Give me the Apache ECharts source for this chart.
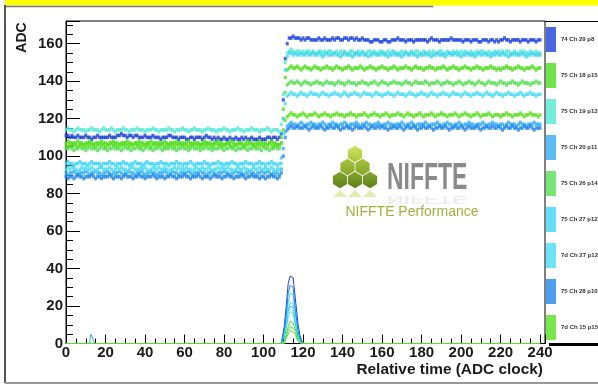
<!DOCTYPE html>
<html><head><meta charset="utf-8">
<script src="https://cdn.jsdelivr.net/npm/echarts@6/dist/echarts.min.js"></script>
<style>html,body{margin:0;padding:0;background:#fff}#c{width:598px;height:385px}</style>
</head><body><div id="c"></div>
<script>
// ---------------- DATA ----------------
const seriesNames = ['74 Ch 29 p8','75 Ch 18 p15','75 Ch 19 p13','75 Ch 20 p11','75 Ch 26 p14','75 Ch 27 p12','7d Ch 27 p12','75 Ch 28 p10','7d Ch 15 p15'];
// ADC value per relative-time sample 0..240
const trace_74_29_8 = [
111,111,110,111,110,110,111,110,110,110,111,110,110,109,110,110,111,110,110,110,
110,110,111,110,110,110,111,111,112,111,111,110,111,111,110,111,111,110,110,110,
111,110,110,110,111,110,110,110,109,110,110,110,111,111,110,110,110,109,110,110,
110,109,109,110,110,109,110,110,110,109,110,111,110,110,109,110,109,110,109,109,
110,109,109,110,109,109,110,109,109,110,109,110,109,109,110,109,109,109,110,109,
109,109,110,110,109,110,110,109,110,112,130,152,160,163,163,164,163,163,163,162,
163,162,163,163,162,162,162,162,163,162,162,163,162,162,162,163,162,163,163,162,
162,163,163,162,163,163,162,163,162,162,163,162,162,162,161,161,162,162,162,161,
161,162,162,161,161,162,162,162,163,162,162,162,161,162,162,162,161,162,162,162,
162,162,162,161,162,163,162,162,162,161,162,162,162,162,162,163,162,162,162,162,
162,161,162,162,162,161,162,162,162,161,161,162,162,162,161,162,162,161,162,161,
162,162,163,162,162,161,162,162,162,162,161,162,162,162,161,162,162,162,161,162,
162];
const trace_75_18_15 = [
107,108,107,107,106,107,108,107,107,106,107,107,108,107,106,107,107,107,108,107,
107,106,107,107,108,107,107,106,107,107,107,108,107,107,106,107,107,108,107,107,
106,107,107,108,107,107,107,106,107,107,108,107,106,107,107,107,108,107,107,106,
107,107,108,107,106,107,107,107,106,107,108,107,107,107,106,107,107,108,107,107,
106,107,107,107,108,107,106,107,107,107,106,107,108,107,107,106,107,107,108,107,
107,107,106,107,108,107,107,106,106,110,125,142,146,147,148,147,147,148,147,146,
147,148,147,147,146,147,148,147,147,146,147,147,148,147,147,146,147,148,147,147,
146,147,147,148,147,146,147,147,147,148,147,146,147,147,148,147,147,146,147,147,
148,147,147,146,147,147,148,147,146,147,147,147,148,147,147,146,147,148,147,147,
147,146,147,147,148,147,147,146,147,147,147,148,147,146,147,147,148,147,147,146,
147,147,148,147,147,146,147,147,148,147,147,146,147,147,147,148,147,147,146,147,
146,147,147,148,147,147,146,147,147,148,147,147,146,147,147,147,148,147,146,147,
147];
const trace_75_19_13 = [
114,115,114,114,113,114,115,114,114,114,113,114,114,115,114,114,114,113,114,115,
114,114,114,115,114,113,114,114,114,115,114,114,113,114,114,114,115,114,114,114,
113,114,114,114,115,114,114,113,114,114,114,114,115,114,114,113,114,114,114,115,
114,114,113,114,114,115,114,114,114,113,114,114,115,114,114,114,113,114,114,114,
115,114,114,113,114,114,114,115,114,114,113,114,114,114,115,114,114,114,113,114,
114,114,115,114,113,114,114,114,113,117,133,150,155,156,157,156,155,156,156,155,
156,155,156,156,155,156,155,155,156,156,155,156,155,156,156,155,155,156,155,156,
155,156,155,155,156,156,155,155,156,155,156,155,155,156,156,155,156,155,155,156,
156,155,155,156,155,156,156,155,155,155,156,155,156,155,155,156,155,156,156,155,
155,156,155,155,156,155,156,155,155,156,156,155,155,156,155,155,156,155,156,155,
156,155,156,155,155,156,155,155,156,155,156,156,155,155,156,155,155,156,155,156,
155,156,155,156,156,155,155,156,155,155,156,155,156,155,155,156,155,155,156,155,
155];
const trace_75_20_11 = [
91,90,91,91,92,91,90,91,91,91,92,91,90,91,91,92,91,91,90,91,
91,92,91,90,91,91,91,92,91,90,91,91,92,91,91,90,91,91,92,91,
90,91,91,92,91,91,90,91,91,91,92,91,90,91,92,91,91,90,91,91,
91,91,92,91,90,91,91,91,92,91,91,90,91,91,92,91,90,91,91,91,
92,91,91,90,91,91,92,91,91,91,90,91,91,92,91,91,90,91,91,92,
91,91,92,91,90,91,91,91,90,93,104,113,116,117,118,117,117,116,117,118,
117,116,117,117,118,117,117,116,117,117,118,117,116,117,117,118,117,117,116,117,
117,118,117,116,117,117,117,118,117,116,117,117,118,117,117,116,117,117,118,117,
116,117,117,118,117,117,116,117,117,117,118,117,116,117,117,118,117,116,117,117,
117,117,118,117,116,117,117,117,118,117,116,117,117,118,117,117,116,117,117,118,
117,116,117,117,118,117,117,116,117,117,117,118,117,116,117,117,118,117,117,116,
117,117,116,117,118,117,117,117,116,117,118,117,117,116,117,117,117,118,117,117,
117];
const trace_75_26_14 = [
104,104,105,104,103,104,104,105,104,104,103,104,105,104,104,104,103,104,105,104,
104,103,104,104,105,104,104,104,103,104,105,104,104,103,104,104,105,104,104,103,
104,105,104,104,103,104,104,105,104,103,104,104,104,105,104,104,103,104,104,105,
104,104,103,104,105,104,104,104,103,104,104,105,104,104,103,104,104,104,105,104,
103,104,104,105,104,104,103,104,104,104,105,104,103,104,104,105,104,104,104,103,
105,104,104,103,104,104,105,104,104,107,120,134,138,139,140,139,139,140,139,138,
139,140,139,139,138,139,139,140,139,139,138,139,140,139,139,139,138,139,140,139,
139,138,139,140,139,139,139,138,139,139,140,139,139,138,139,139,140,139,138,139,
140,139,139,138,139,139,140,139,139,139,138,139,140,139,139,138,139,140,139,139,
139,139,140,139,138,139,139,139,140,139,138,139,139,140,139,139,138,139,139,140,
139,138,139,139,140,139,139,138,139,140,139,139,138,139,140,139,139,139,138,139,
140,139,139,138,139,139,140,139,139,138,139,140,139,139,139,138,139,139,140,139,
139];
const trace_75_27_12 = [
96,97,96,96,95,96,96,97,96,96,96,95,96,97,96,96,96,96,95,96,
96,96,97,96,96,95,96,96,96,97,96,96,95,96,96,97,96,96,96,95,
96,97,96,96,96,95,96,96,97,96,96,96,95,96,96,96,97,96,96,95,
96,96,96,97,96,95,96,96,96,96,97,96,96,95,96,96,96,97,96,96,
95,96,96,96,97,96,96,95,96,96,96,97,96,96,96,95,96,96,97,96,
96,95,96,96,97,96,96,95,96,99,120,146,153,155,155,154,155,154,154,155,
154,154,155,154,154,155,154,154,155,154,153,154,155,154,154,154,155,154,154,153,
154,155,154,154,154,153,154,155,154,154,155,154,154,153,154,154,155,154,154,154,
155,154,154,153,154,154,155,154,154,154,153,154,155,154,154,155,154,154,153,154,
154,154,155,154,154,153,154,154,155,154,154,154,153,154,155,154,154,155,154,154,
153,154,154,155,154,154,154,153,154,155,154,154,155,154,154,153,154,154,155,154,
154,155,154,154,153,154,154,155,154,154,154,155,154,153,154,154,155,154,154,154,
154];
const trace_7d_27_12 = [
93,94,93,94,94,93,92,93,94,93,94,93,93,94,93,92,93,94,94,93,
93,93,94,93,92,93,94,93,94,93,93,92,93,94,94,93,93,93,94,93,
94,93,92,93,94,93,93,94,93,93,94,93,92,93,93,94,93,94,93,93,
93,94,93,93,92,93,94,93,93,94,93,93,94,93,92,93,93,94,93,94,
93,93,94,93,93,92,93,94,93,93,94,93,93,92,93,94,93,93,94,93,
93,94,93,93,94,93,92,93,93,96,112,128,132,133,134,133,133,132,133,134,
133,133,132,133,134,133,133,133,132,133,134,133,133,132,133,133,134,133,133,132,
133,134,133,132,133,133,134,133,133,132,133,134,133,133,133,132,133,134,133,133,
132,133,133,134,133,133,132,133,134,133,133,133,132,133,134,133,133,132,133,133,
134,133,133,132,133,134,133,133,132,133,133,134,133,133,132,133,134,133,133,133,
132,133,134,133,133,132,133,133,134,133,133,132,133,134,133,133,132,133,134,133,
133,132,133,133,134,133,133,132,133,133,134,133,132,133,133,134,133,133,132,133,
133];
const trace_75_28_10 = [
89,88,89,89,88,89,90,89,89,88,89,89,89,90,89,88,89,89,88,89,
89,89,90,89,88,89,89,89,88,89,90,89,89,89,88,89,89,90,89,89,
88,89,89,89,90,89,88,89,89,89,88,89,89,90,89,89,88,89,89,89,
90,89,89,88,89,89,89,90,89,88,89,89,89,88,89,90,89,89,89,88,
89,89,90,89,89,88,89,89,89,90,89,88,89,89,90,89,89,89,88,89,
89,88,89,89,90,89,89,88,89,91,100,110,114,115,116,115,115,116,115,115,
115,116,115,114,115,116,115,115,115,116,115,114,115,115,116,115,115,116,115,114,
115,115,116,115,115,114,115,116,115,115,115,116,115,114,115,116,115,115,116,115,
116,115,115,114,115,115,116,115,115,116,115,114,115,116,115,115,116,115,114,115,
115,116,115,115,116,115,114,115,115,116,115,115,116,115,114,115,115,116,115,115,
116,115,114,115,116,115,115,115,116,115,114,115,115,116,115,115,116,115,115,116,
115,114,115,116,115,115,116,115,115,114,115,115,116,115,115,116,115,114,115,115,
115];
const trace_7d_15_15 = [
106,105,106,106,107,106,105,106,106,106,105,106,107,106,106,105,106,106,107,106,
105,106,106,107,106,106,105,106,106,106,107,106,105,106,106,107,106,106,105,106,
106,107,106,105,106,106,106,107,106,106,105,106,106,107,106,105,106,106,106,107,
106,106,105,106,107,106,106,106,105,106,106,107,106,106,105,106,107,106,106,105,
106,106,107,106,105,106,106,106,107,106,105,106,106,107,106,106,105,106,106,106,
105,106,106,107,106,105,106,106,106,107,114,119,121,122,123,122,122,121,122,122,
123,122,121,122,122,122,123,122,121,122,122,123,122,122,121,122,122,123,122,122,
122,121,122,122,123,122,122,121,122,122,122,123,122,121,122,122,123,122,122,121,
122,122,123,122,121,122,122,122,123,122,122,121,122,123,122,122,121,122,122,123,
122,121,122,122,122,123,122,121,122,122,123,122,122,121,122,122,122,123,122,121,
122,122,123,122,122,121,122,122,123,122,121,122,122,122,123,122,121,122,122,122,
121,122,122,123,122,122,121,122,122,122,123,122,121,122,122,123,122,122,122,121,
122];
const traces = [trace_74_29_8, trace_75_18_15, trace_75_19_13, trace_75_20_11, trace_75_26_14, trace_75_27_12, trace_7d_27_12, trace_75_28_10, trace_7d_15_15];

// histogram (lower curves): counts per time bin
const histBins = [109,110,111,112,113,114,115,116,117,118,119,120,121];
const hist_74_29_8  = [0,3,9,20,32,36,35,30,20,10,4,1,0];
const hist_75_18_15 = [0,1,2,5,9,12,11,9,6,3,1,0,0];
const hist_75_19_13 = [0,1,3,8,14,17,16,13,8,4,1,0,0];
const hist_75_20_11 = [0,2,4,10,17,20,19,15,9,4,1,0,0];
const hist_75_26_14 = [0,0,1,4,7,9,8,7,4,2,1,0,0];
const hist_75_27_12 = [0,2,5,13,22,27,26,21,13,6,2,0,0];
const hist_7d_27_12 = [0,1,4,11,18,22,21,16,10,5,1,0,0];
const hist_75_28_10 = [0,2,7,16,27,31,30,24,15,7,2,0,0];
const hist_7d_15_15 = [0,0,1,3,5,7,6,5,3,1,0,0,0];
const hists = [hist_74_29_8, hist_75_18_15, hist_75_19_13, hist_75_20_11, hist_75_26_14, hist_75_27_12, hist_7d_27_12, hist_75_28_10, hist_7d_15_15];
const smallPeakBins = [12,13,14,15];       // 75 Ch 20 p11
const smallPeakCounts = [0,5,3,0];
const histRange = [0,240];

// ---------------- STYLE ----------------
const colors = ['#1b40dc','#4cdd1c','#52e8d4','#33acf2','#55e055','#3fd4f4','#48dcf8','#2186ec','#5ae01e'];
const FONT = 'Liberation Sans, Arial, sans-serif';

const series = [];
traces.forEach((arr, k) => {
  series.push({
    type: 'scatter', name: seriesNames[k], symbol: 'rect', symbolSize: [3, 3.5],
    data: arr.map((v, i) => [i, v]),
    itemStyle: { color: colors[k] }, silent: true, z: 3
  });
});
hists.forEach((counts, k) => {
  let pts = [[histRange[0], 0]];
  if (k === 3) pts = pts.concat(smallPeakBins.map((b, i) => [b, smallPeakCounts[i]]));
  pts = pts.concat(histBins.map((b, i) => [b, counts[i]]));
  pts.push([histRange[1], 0]);
  series.push({
    type: 'line', name: seriesNames[k], step: 'middle', symbol: 'none', showSymbol: false,
    data: pts, lineStyle: { color: colors[k], width: 1 }, itemStyle: { color: colors[k] },
    silent: true, z: 4
  });
});

function hex(cx, cy, r) {
  const p = [];
  for (let i = 0; i < 6; i++) { const a = Math.PI / 180 * (60 * i - 90); p.push([cx + r * Math.cos(a), cy + r * Math.sin(a)]); }
  return p;
}
function grad(c1, c2) { return new echarts.graphic.LinearGradient(0, 0, 0, 1, [{offset: 0, color: c1}, {offset: 1, color: c2}]); }
const hexes = [
  [355, 154, '#cfe463', '#a9c436'],
  [347.5, 167, '#a6c440', '#84a42a'], [362.5, 167, '#a6c440', '#84a42a'],
  [340, 180, '#84a52e', '#5f7f1a'], [355, 180, '#84a52e', '#5f7f1a'], [370, 180, '#84a52e', '#5f7f1a']
].map(h => ({ type: 'polygon', shape: { points: hex(h[0], h[1], 8.2) }, style: { fill: grad(h[2], h[3]) }, silent: true }));
const refl = [[333, 347], [348, 362], [363, 377]].map(t => ({
  type: 'polygon', shape: { points: [[t[0], 197], [(t[0] + t[1]) / 2, 190], [t[1], 197]] },
  style: { fill: '#d4e68a', opacity: 0.7 }, silent: true
}));

const chart = echarts.init(document.getElementById('c'), null, { renderer: 'canvas' });
chart.setOption({
  animation: false,
  backgroundColor: '#ffffff',
  grid: { left: 66, right: 53, top: 21, bottom: 41.5, show: true, borderColor: '#000', borderWidth: 1, backgroundColor: 'transparent' },
  legend: {
    orient: 'vertical', left: 546, top: 27, padding: 0, itemWidth: 10, itemHeight: 25, itemGap: 11, icon: 'rect',
    data: seriesNames, selectedMode: false,
    textStyle: { fontSize: 6, fontWeight: 'bold', fontFamily: FONT, color: '#333' }
  },
  xAxis: [
    { type: 'value', min: 0, max: 242.5, interval: 20, position: 'bottom',
      axisLine: { show: true, onZero: false, lineStyle: { color: '#000', width: 1 } },
      axisTick: { inside: true, length: 9, lineStyle: { color: '#000', width: 1 } },
      axisLabel: { margin: 2, fontSize: 15, fontWeight: 'bold', fontFamily: FONT, color: '#1a1a1a',
        formatter: v => (v % 20 === 0 ? String(v) : '') },
      splitLine: { show: false } },
    { type: 'value', min: 0, max: 242.5, interval: 5, position: 'bottom',
      axisLine: { show: false }, axisTick: { inside: true, length: 5, lineStyle: { color: '#000', width: 1 } },
      axisLabel: { show: false }, splitLine: { show: false } }
  ],
  yAxis: [
    { type: 'value', min: 0, max: 172.1, interval: 20, position: 'left',
      axisLine: { show: true, onZero: false, lineStyle: { color: '#000', width: 1 } },
      axisTick: { inside: true, length: 14, lineStyle: { color: '#000', width: 1 } },
      axisLabel: { margin: 3, fontSize: 15, fontWeight: 'bold', fontFamily: FONT, color: '#1a1a1a',
        formatter: v => (v % 20 === 0 ? String(v) : '') },
      splitLine: { show: false } },
    { type: 'value', min: 0, max: 172.1, interval: 5, position: 'left',
      axisLine: { show: false }, axisTick: { inside: true, length: 7, lineStyle: { color: '#000', width: 1 } },
      axisLabel: { show: false }, splitLine: { show: false } }
  ],
  series: series,
  graphic: [
    { type: 'rect', shape: { x: 5, y: 0, width: 593, height: 5.5 }, style: { fill: '#ffff00' }, silent: true },
    { type: 'line', shape: { x1: 5, y1: 6.5, x2: 433, y2: 6.5 }, style: { stroke: '#777', lineWidth: 1.5 }, silent: true },
    { type: 'line', shape: { x1: 5, y1: 5, x2: 5, y2: 383 }, style: { stroke: '#555', lineWidth: 2 }, silent: true },
    { type: 'line', shape: { x1: 5, y1: 383, x2: 598, y2: 383 }, style: { stroke: '#999', lineWidth: 2 }, silent: true },
    { type: 'line', shape: { x1: 545, y1: 21.5, x2: 598, y2: 21.5 }, style: { stroke: '#000', lineWidth: 1 }, silent: true },
    { type: 'line', shape: { x1: 549, y1: 344.5, x2: 598, y2: 344.5 }, style: { stroke: '#000', lineWidth: 3 }, silent: true },
    ...hexes, ...refl,
    { type: 'text', x: 387, y: 178.5, scaleX: 0.62, silent: true,
      style: { text: 'NIFFTE', fill: '#8a8a8a', fontSize: 37, fontWeight: 'bold', fontFamily: FONT, align: 'left', verticalAlign: 'middle' } },
    { type: 'text', x: 387, y: 199, scaleX: 0.62, scaleY: -0.3, silent: true,
      style: { text: 'NIFFTE', fill: '#8a8a8a', opacity: 0.15, fontSize: 37, fontWeight: 'bold', fontFamily: FONT, align: 'left', verticalAlign: 'middle' } },
    { type: 'text', x: 412, y: 212, silent: true,
      style: { text: 'NIFFTE Performance', fill: '#9fb33f', fontSize: 14, fontFamily: FONT, align: 'center', verticalAlign: 'middle' } },
    { type: 'text', x: 22, y: 37.5, rotation: Math.PI / 2, silent: true,
      style: { text: 'ADC', fill: '#1a1a1a', fontSize: 14, fontWeight: 'bold', fontFamily: FONT, align: 'center', verticalAlign: 'middle' } },
    { type: 'text', x: 543, y: 370, scaleX: 1.1, silent: true,
      style: { text: 'Relative time (ADC clock)', fill: '#1a1a1a', fontSize: 14, fontWeight: 'bold', fontFamily: FONT, align: 'right', verticalAlign: 'middle' } }
  ]
});
</script>
</body></html>
